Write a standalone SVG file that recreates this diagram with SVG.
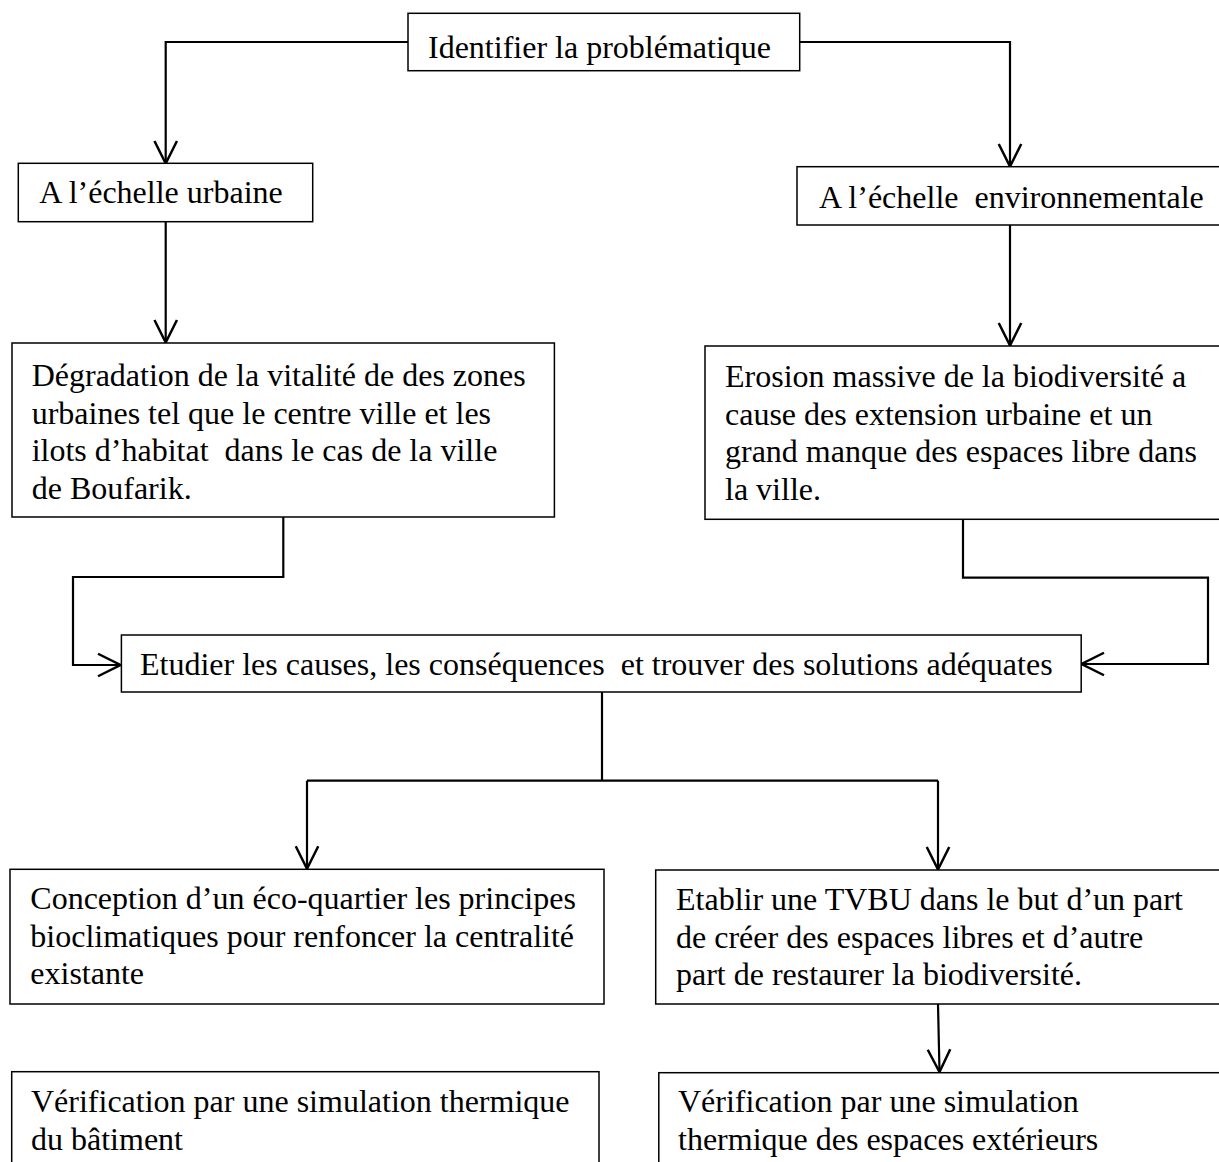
<svg xmlns="http://www.w3.org/2000/svg" width="1219" height="1162" viewBox="0 0 1219 1162">
<style>
.box{fill:#fff;stroke:#000;stroke-width:1.5}
.t{font-family:"Liberation Serif","Times New Roman",serif;font-size:32px;fill:#000}
.c{fill:none;stroke:#000;stroke-width:2.2}
</style>
<defs>
<marker id="arr" markerUnits="userSpaceOnUse" markerWidth="30" markerHeight="30" viewBox="-20 -12 24 24" refX="0" refY="0" orient="auto">
<path d="M-18,-9 L0,0 L-18,9" fill="none" stroke="#000" stroke-width="2"/>
</marker>
</defs>
<rect width="1219" height="1162" fill="#fff"/>
<g id="connectors">
<path class="c" d="M408,42 H165.7 V163.5" marker-end="url(#arr)"/>
<path class="c" d="M800,42 H1010 V166.5" marker-end="url(#arr)"/>
<path class="c" d="M165.7,221.7 V342.5" marker-end="url(#arr)"/>
<path class="c" d="M1010,225 V345.5" marker-end="url(#arr)"/>
<path class="c" d="M283.3,517 V577 H73 V665 H120.5" marker-end="url(#arr)"/>
<path class="c" d="M963,519.3 V577.7 H1208 V664 H1081.5" marker-end="url(#arr)"/>
<path class="c" d="M602,692 V780.7 M307,780.7 H938"/>
<path class="c" d="M307,780.7 V868.8" marker-end="url(#arr)"/>
<path class="c" d="M938,780.7 V869.5" marker-end="url(#arr)"/>
<path class="c" d="M938,1004 L939.5,1072" marker-end="url(#arr)"/>
</g>
<g id="n-identifier">
<rect class="box" x="408" y="13.3" width="391.7" height="57.4"/>
<text class="t" x="428" y="58">Identifier la problématique</text>
</g>
<g id="n-urbaine">
<rect class="box" x="18.3" y="163.3" width="294.4" height="58.4"/>
<text class="t" x="39.3" y="203.3">A l’échelle urbaine</text>
</g>
<g id="n-env">
<rect class="box" x="797" y="166.7" width="440" height="58.3"/>
<text class="t" x="819" y="208" xml:space="preserve">A l’échelle  environnementale</text>
</g>
<g id="n-degradation">
<rect class="box" x="12" y="343" width="542.4" height="174"/>
<text class="t" xml:space="preserve"><tspan x="31.7" y="386">Dégradation de la vitalité de des zones</tspan><tspan x="31.7" y="423.5">urbaines tel que le centre ville et les</tspan><tspan x="31.7" y="461">ilots d’habitat  dans le cas de la ville</tspan><tspan x="31.7" y="498.5">de Boufarik.</tspan></text>
</g>
<g id="n-erosion">
<rect class="box" x="705" y="346" width="530" height="173.3"/>
<text class="t"><tspan x="725" y="387">Erosion massive de la biodiversité a</tspan><tspan x="725" y="424.5">cause des extension urbaine et un</tspan><tspan x="725" y="462">grand manque des espaces libre dans</tspan><tspan x="725" y="499.5">la ville.</tspan></text>
</g>
<g id="n-etudier">
<rect class="box" x="121.4" y="635" width="959.8" height="57"/>
<text class="t" x="140" y="675" xml:space="preserve">Etudier les causes, les conséquences  et trouver des solutions adéquates</text>
</g>
<g id="n-conception">
<rect class="box" x="10" y="869.3" width="594" height="134.7"/>
<text class="t"><tspan x="30.3" y="909">Conception d’un éco-quartier les principes</tspan><tspan x="30.3" y="946.5">bioclimatiques pour renfoncer la centralité</tspan><tspan x="30.3" y="984">existante</tspan></text>
</g>
<g id="n-etablir">
<rect class="box" x="655.7" y="870" width="580" height="134"/>
<text class="t"><tspan x="676" y="910">Etablir une TVBU dans le but d’un part</tspan><tspan x="676" y="947.5">de créer des espaces libres et d’autre</tspan><tspan x="676" y="985">part de restaurer la biodiversité.</tspan></text>
</g>
<g id="n-verif-left">
<rect class="box" x="11.7" y="1071.7" width="587.3" height="120"/>
<text class="t"><tspan x="31" y="1112">Vérification par une simulation thermique</tspan><tspan x="31" y="1149.5">du bâtiment</tspan></text>
</g>
<g id="n-verif-right">
<rect class="box" x="658.8" y="1072.7" width="580" height="120"/>
<text class="t"><tspan x="678" y="1112">Vérification par une simulation</tspan><tspan x="678" y="1149.5">thermique des espaces extérieurs</tspan></text>
</g>
</svg>
